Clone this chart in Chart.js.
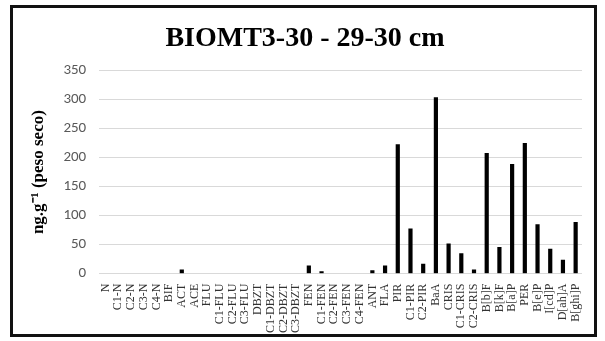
<!DOCTYPE html>
<html>
<head>
<meta charset="utf-8">
<script src="https://cdn.jsdelivr.net/npm/chart.js@4/dist/chart.umd.min.js"></script>
<style>
	html, body { margin: 0; padding: 0; background: #fff; }
	#grafica { display: block; }
</style>
</head>
<body>
<canvas id="grafica" width="605" height="341"></canvas>
<script>
// datos
var compuestos = ["N", "C1-N", "C2-N", "C3-N", "C4-N", "BIF", "ACT", "ACE", "FLU", "C1-FLU", "C2-FLU", "C3-FLU",
	"DBZT", "C1-DBZT", "C2-DBZT", "C3-DBZT", "FEN", "C1-FEN", "C2-FEN", "C3-FEN", "C4-FEN", "ANT", "FLA",
	"PIR", "C1-PIR", "C2-PIR", "BaA", "CRIS", "C1-CRIS", "C2-CRIS", "B[b]F", "B[k]F", "B[a]P", "PER",
	"B[e]P", "I[cd]P", "D[ah]A", "B[ghi]P"];
var concentraciones = [0, 0, 0, 0, 0, 0, 7, 0, 0, 0, 0, 0,
	0, 0, 0, 0, 14, 4, 0, 0, 0, 6, 14,
	223, 78, 17, 304, 52, 35, 7, 208, 46, 189, 225,
	85, 43, 24, 89];
var ticks_y = [0, 50, 100, 150, 200, 250, 300, 350];

var titulo = "BIOMT3-30 - 29-30 cm";
var titulo_eje_y = "ng.g\u207B\u00B9 (peso seco)";

// marco negro alrededor de la figura
var marco = {
	id: 'marco',
	afterDraw: function (chart) {
		var ctx = chart.ctx;
		ctx.save();
		ctx.strokeStyle = "#111";
		ctx.lineWidth = 3;
		ctx.strokeRect(11.5, 6.5, 584, 329);
		ctx.restore();
	}
};

var contexto = document.getElementById('grafica').getContext('2d');

new Chart(contexto, {
	type: 'bar',
	data: {
		labels: compuestos,
		datasets: [{
			data: concentraciones,
			backgroundColor: "#000",
			borderWidth: 0,
			barPercentage: 0.33,
			categoryPercentage: 1
		}]
	},
	options: {
		responsive: false,
		animation: false,
		layout: {
			padding: { left: 28, right: 23, top: 18, bottom: 6 }
		},
		plugins: {
			legend: { display: false },
			tooltip: { enabled: false },
			title: {
				display: true,
				text: titulo,
				color: "#000",
				font: { family: "'Liberation Serif', 'Times New Roman', serif", size: 28, weight: 'bold' },
				padding: { top: 4, bottom: 15 }
			}
		},
		scales: {
			x: {
				grid: { display: false },
				border: { display: false },
				ticks: {
					autoSkip: false,
					minRotation: 90,
					maxRotation: 90,
					padding: 2,
					color: "#333",
					font: { family: "'Liberation Serif', 'Times New Roman', serif", size: 12 }
				}
			},
			y: {
				min: 0,
				max: 350,
				afterBuildTicks: function (eje) {
					eje.ticks = ticks_y.map(function (v) { return { value: v }; });
				},
				grid: { color: "#d9d9d9", drawTicks: false, lineWidth: 1 },
				border: { display: false },
				ticks: {
					padding: 13,
					color: "#595959",
					font: { family: "Carlito, 'Liberation Sans', sans-serif", size: 15 }
				},
				title: {
					display: true,
					text: titulo_eje_y,
					color: "#000",
					font: { family: "'Liberation Serif', 'Times New Roman', serif", size: 17, weight: 'bold' },
					padding: { top: 0, bottom: 2 }
				}
			}
		}
	},
	plugins: [marco]
});
</script>
</body>
</html>
